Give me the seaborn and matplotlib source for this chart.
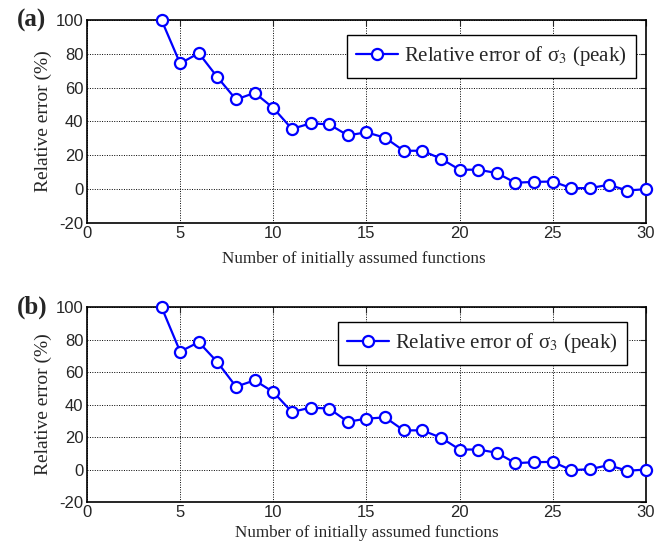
import numpy as np
import pandas as pd
import matplotlib
matplotlib.use("Agg")
import matplotlib.pyplot as plt
import seaborn as sns

# Number of initially assumed functions
n_functions = list(range(4, 31))

# Relative error of sigma_3 at the peak (%), case (a)
error_a = [100.0, 74.3, 80.4, 66.2, 53.0, 56.9, 48.0, 35.6, 38.9, 38.3,
           31.8, 33.6, 30.4, 22.7, 22.7, 18.0, 11.5, 11.5, 9.5, 3.8,
           4.3, 4.5, 0.6, 0.6, 2.6, -0.8, 0.0]

# Relative error of sigma_3 at the peak (%), case (b)
error_b = [100.0, 72.6, 78.4, 66.1, 51.0, 54.9, 47.7, 35.4, 38.1, 37.5,
           29.4, 31.3, 32.1, 24.1, 24.1, 19.6, 12.3, 12.3, 10.3, 3.9,
           4.5, 4.7, -0.4, 0.2, 2.7, -0.8, 0.0]

panel_labels = ["(a)", "(b)"]
x_ticks = [0, 5, 10, 15, 20, 25, 30]
y_ticks = [-20, 0, 20, 40, 60, 80, 100]
series_label = "Relative error of σ$_{3}$ (peak)"
x_label = "Number of initially assumed functions"
y_label = "Relative error (%)"

sns.set_style("white")
plt.rcParams["mathtext.fontset"] = "stix"
plt.rcParams["axes.unicode_minus"] = False
serif = ["Liberation Serif", "DejaVu Serif"]
sans = ["Liberation Sans", "DejaVu Sans"]

fig = plt.figure(figsize=(6.56, 5.46), dpi=100)
ax_a = fig.add_axes([0.1326, 0.5916, 0.852, 0.3718])
ax_b = fig.add_axes([0.1326, 0.0806, 0.852, 0.357])

# per-panel placement: (legend anchor, x-label anchor)
placement = {
    "(a)": ((0.982, 0.926), (0.478, -0.14)),
    "(b)": ((0.966, 0.923), (0.501, -0.12)),
}

for ax, err, tag in [(ax_a, error_a, panel_labels[0]), (ax_b, error_b, panel_labels[1])]:
    df = pd.DataFrame({"n": n_functions, "err": err})
    sns.lineplot(data=df, x="n", y="err", ax=ax, color="#0000ff",
                 linewidth=1.6, marker="o", markersize=8,
                 markerfacecolor="white", markeredgecolor="#0000ff",
                 markeredgewidth=1.6, label=series_label, clip_on=False,
                 zorder=5)
    ax.set_xlim(0, 30)
    ax.set_ylim(-20, 100)
    ax.set_xticks(x_ticks)
    ax.set_yticks(y_ticks)
    ax.grid(True, color="black", linestyle=(0, (1, 1.5)), linewidth=0.7)
    ax.tick_params(direction="in", length=4, width=0.8, top=True, right=True,
                   labelsize=12, pad=2.5)
    for lab in ax.get_xticklabels() + ax.get_yticklabels():
        lab.set_fontfamily(sans)
    for sp in ax.spines.values():
        sp.set_color("black")
        sp.set_linewidth(1.2)
    leg_anchor, xl_anchor = placement[tag]
    ax.set_xlabel(x_label, fontsize=12.3, family=serif)
    ax.xaxis.set_label_coords(*xl_anchor)
    ax.set_ylabel(y_label, fontsize=14, family=serif, labelpad=3)
    leg = ax.legend(loc="upper right", bbox_to_anchor=leg_anchor,
                    prop={"family": serif, "size": 15}, frameon=True,
                    fancybox=False, framealpha=1, edgecolor="black",
                    handlelength=2.0, handletextpad=0.3, borderpad=0.45,
                    borderaxespad=0.0)
    leg.get_frame().set_linewidth(1.0)
    ax.text(-0.125, 1.0, tag, transform=ax.transAxes, fontsize=18,
            fontweight="bold", family=serif, ha="left", va="center")

fig.savefig("out.png", dpi=100)
